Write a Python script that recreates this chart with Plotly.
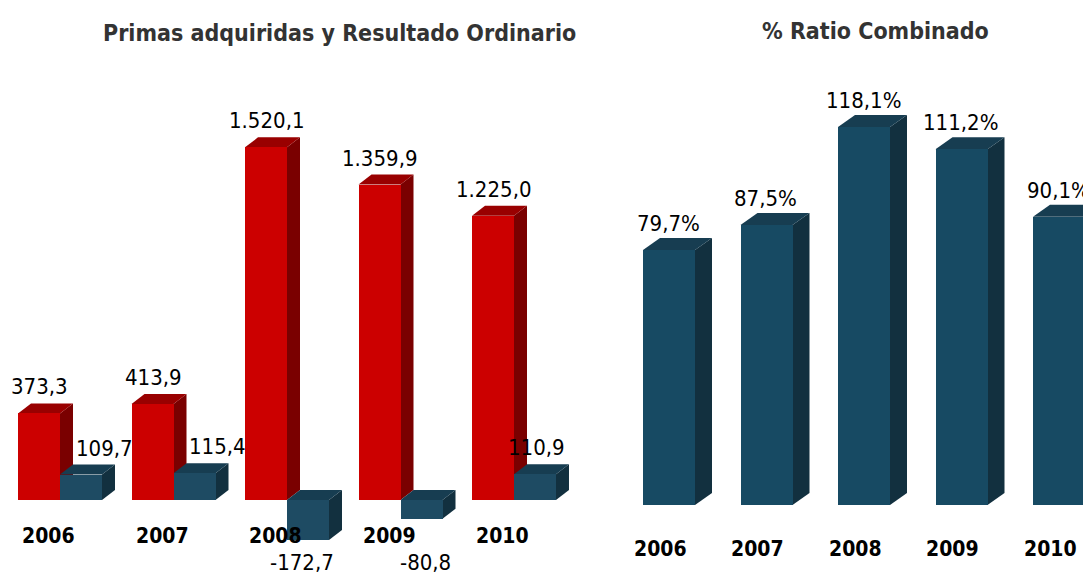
import plotly.graph_objects as go

# ---------------- data ----------------
years = ["2006", "2007", "2008", "2009", "2010"]
primas = [373.3, 413.9, 1520.1, 1359.9, 1225.0]
resultado = [109.7, 115.4, -172.7, -80.8, 110.9]
ratio = [79.7, 87.5, 118.1, 111.2, 90.1]

primas_labels = ["373,3", "413,9", "1.520,1", "1.359,9", "1.225,0"]
resultado_labels = ["109,7", "115,4", "-172,7", "-80,8", "110,9"]
ratio_labels = ["79,7%", "87,5%", "118,1%", "111,2%", "90,1%"]

# ---------------- style ----------------
FONT = "DejaVu Sans Condensed, Liberation Sans Narrow, sans-serif"
RED = "#cc0000"
RED_TOP = "#990000"
RED_SIDE = "#7a0000"
BLUE = "#1e4b63"
BLUE_TOP = "#173d51"
BLUE_SIDE = "#12303f"
BLUE2 = "#174a63"

PAGE_W, PAGE_H = 1091, 578
M = 8  # default page body margin in the html page
W, H = PAGE_W - M, PAGE_H - M


def lx(px):  # page px -> figure px
    return px - M


# left panel geometry (page pixels)
L_PX0, L_PX1 = M, 600
L_X0PX, L_STEP = 60, 113.5
L_BASE, L_SCALE = 500, 0.232
# right panel
R_PX0, R_PX1 = 600, PAGE_W
R_X0PX, R_STEP = 669, 97.5
R_BASE, R_SCALE = 505, 3.2

lx_range = [(L_PX0 - L_X0PX) / L_STEP, (L_PX1 - L_X0PX) / L_STEP]
ly_range = [-(PAGE_H - L_BASE) / L_SCALE, (L_BASE - M) / L_SCALE]
rx_range = [(R_PX0 - R_X0PX) / R_STEP, (R_PX1 - R_X0PX) / R_STEP]
ry_range = [-(PAGE_H - R_BASE) / R_SCALE, (R_BASE - M) / R_SCALE]

L_DX, L_DY = 13 / L_STEP, 10 / L_SCALE
R_DX, R_DY = 17 / R_STEP, 12 / R_SCALE
LW = 0.37
RW = 52 / R_STEP

fig = go.Figure()
shapes = []
annotations = []


def faces(x0, x1, v, dx, dy, ctop, cside, xref, yref):
    t = max(v, 0)
    b = min(v, 0)
    top = f"M {x0},{t} L {x0+dx},{t+dy} L {x1+dx},{t+dy} L {x1},{t} Z"
    side = f"M {x1},{b} L {x1},{t} L {x1+dx},{t+dy} L {x1+dx},{b+dy} Z"
    out = []
    for p, c in ((side, cside), (top, ctop)):
        out.append(dict(type="path", path=p, xref=xref, yref=yref,
                        fillcolor=c, line=dict(width=0), layer="below"))
    return out


idx = list(range(len(years)))

# left panel front faces
fig.add_trace(go.Bar(x=idx, y=primas, offset=-LW, width=LW, marker=dict(color=RED, line=dict(width=0)),
                     xaxis="x", yaxis="y", showlegend=False, hoverinfo="skip"))
fig.add_trace(go.Bar(x=idx, y=resultado, offset=0, width=LW, marker=dict(color=BLUE, line=dict(width=0)),
                     xaxis="x", yaxis="y", showlegend=False, hoverinfo="skip"))
for i in idx:
    shapes += faces(i - LW, i, primas[i], L_DX, L_DY, RED_TOP, RED_SIDE, "x", "y")
for i in idx:
    shapes += faces(i, i + LW, resultado[i], L_DX, L_DY, BLUE_TOP, BLUE_SIDE, "x", "y")

# right panel front faces
fig.add_trace(go.Bar(x=idx, y=ratio, width=RW, marker=dict(color=BLUE2, line=dict(width=0)),
                     xaxis="x2", yaxis="y2", showlegend=False, hoverinfo="skip"))
for i in idx:
    shapes += faces(i - RW / 2, i + RW / 2, ratio[i], R_DX, R_DY, BLUE_TOP, BLUE_SIDE, "x2", "y2")

VAL_FONT = dict(family=FONT, size=22, color="#000000")
YEAR_FONT = dict(family=FONT, size=21, color="#000000")

# labels left
for i in idx:
    annotations.append(dict(x=i - 0.18, y=primas[i] + L_DY, xref="x", yref="y", text=primas_labels[i],
                            showarrow=False, xanchor="center", yanchor="bottom", yshift=2, font=VAL_FONT))
blue_label_dx = [0.39, 0.39, 0.13, 0.22, 0.2]
for i in idx:
    v = resultado[i]
    if v >= 0:
        annotations.append(dict(x=i + blue_label_dx[i], y=v + L_DY, xref="x", yref="y", text=resultado_labels[i],
                                showarrow=False, xanchor="center", yanchor="bottom", yshift=2, font=VAL_FONT))
    else:
        annotations.append(dict(x=i + blue_label_dx[i], y=-(562 - L_BASE) / L_SCALE, xref="x", yref="y",
                                text=resultado_labels[i], showarrow=False, xanchor="center", yanchor="middle",
                                font=VAL_FONT))
for i in idx:
    annotations.append(dict(x=i - 0.1, y=-(536 - L_BASE) / L_SCALE, xref="x", yref="y", text="<b>" + years[i] + "</b>",
                            showarrow=False, xanchor="center", yanchor="middle", font=YEAR_FONT))

# labels right
for i in idx:
    annotations.append(dict(x=i - 0.01, y=ratio[i] + R_DY, xref="x2", yref="y2", text=ratio_labels[i],
                            showarrow=False, xanchor="center", yanchor="bottom", yshift=0, font=VAL_FONT))
    annotations.append(dict(x=i - 0.09, y=-(549 - R_BASE) / R_SCALE, xref="x2", yref="y2",
                            text="<b>" + years[i] + "</b>", showarrow=False, xanchor="center", yanchor="middle",
                            font=YEAR_FONT))

TITLE_FONT = dict(family=FONT, size=23, color="#333333")
annotations.append(dict(x=lx(339) / W, y=1 - lx(33) / H, xref="paper", yref="paper",
                        text="<b>Primas adquiridas y Resultado Ordinario</b>", showarrow=False,
                        xanchor="center", yanchor="middle", font=TITLE_FONT))
annotations.append(dict(x=lx(875) / W, y=1 - lx(31) / H, xref="paper", yref="paper",
                        text="<b>% Ratio Combinado</b>", showarrow=False,
                        xanchor="center", yanchor="middle", font=TITLE_FONT))

ax = dict(visible=False, showgrid=False, zeroline=False, fixedrange=True)
fig.update_layout(
    width=W, height=H, autosize=False,
    margin=dict(l=0, r=0, t=0, b=0),
    paper_bgcolor="white", plot_bgcolor="rgba(0,0,0,0)",
    barmode="overlay", bargap=0,
    xaxis=dict(ax, domain=[lx(L_PX0) / W, lx(L_PX1) / W], range=lx_range),
    yaxis=dict(ax, domain=[0, 1], range=ly_range),
    xaxis2=dict(ax, domain=[lx(R_PX0) / W, 1], range=rx_range, anchor="y2"),
    yaxis2=dict(ax, domain=[0, 1], range=ry_range, anchor="x2"),
    shapes=shapes, annotations=annotations,
)
fig.write_html("out.html")
